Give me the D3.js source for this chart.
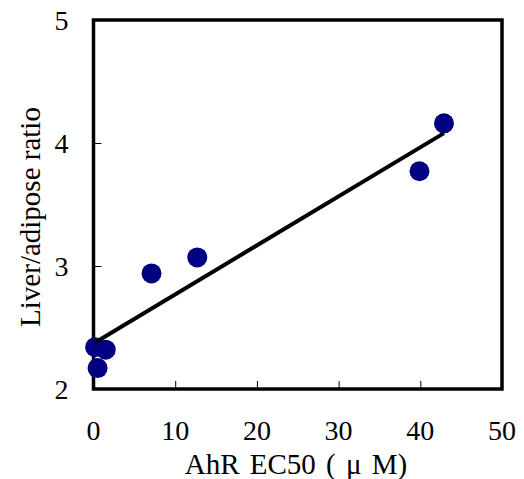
<!DOCTYPE html>
<html>
<head>
<meta charset="utf-8">
<script src="https://cdn.jsdelivr.net/npm/d3@7"></script>
<style>
  body { margin: 0; background: #fff; }
  svg { display: block; }
</style>
</head>
<body>
<svg width="524" height="479"></svg>
<script>
// AhR EC50 (uM) vs liver/adipose ratio
const ec50 = [0.2, 1.5, 0.5, 7.1, 12.7, 39.9, 42.9];
const ratio = [2.34, 2.32, 2.17, 2.94, 3.07, 3.77, 4.16];
const xTicks = [0, 10, 20, 30, 40, 50];
const yTicks = [2, 3, 4, 5];

let svg = d3.select("svg"),
    margin = {top: 20, right: 22, bottom: 90, left: 93.5},
    width = svg.attr("width") - margin.left - margin.right,
    height = svg.attr("height") - margin.top - margin.bottom,
    g = svg.append("g").attr("transform", "translate(" + margin.left + "," + margin.top + ")");

let x = d3.scaleLinear().domain([0, 50]).range([0, width]),
    y = d3.scaleLinear().domain([2, 5]).range([height, 0]);

let font = "'Liberation Serif', 'Times New Roman', serif";

// least squares fit
let data = ec50.map(function(d, i) { return {x: d, y: ratio[i]}; });
let mx = d3.mean(data, d => d.x), my = d3.mean(data, d => d.y);
let sxy = d3.sum(data, d => (d.x - mx) * (d.y - my));
let sxx = d3.sum(data, d => (d.x - mx) * (d.x - mx));
let slope = sxy / sxx, icpt = my - slope * mx;
let xr = d3.extent(ec50);

// inner ticks
g.append("g")
    .attr("transform", "translate(0," + height + ")")
    .call(d3.axisBottom(x).tickValues(xTicks.slice(1, -1)).tickSizeInner(-8).tickSizeOuter(0).tickFormat(""))
    .call(a => a.select(".domain").remove())
    .selectAll("line").attr("stroke", "#000").attr("stroke-width", 1);

g.append("g")
    .call(d3.axisLeft(y).tickValues(yTicks.slice(1, -1)).tickSizeInner(-8).tickSizeOuter(0).tickFormat(""))
    .call(a => a.select(".domain").remove())
    .selectAll("line").attr("stroke", "#000").attr("stroke-width", 1);

// frame
g.append("rect")
    .attr("x", 0).attr("y", 0)
    .attr("width", width).attr("height", height)
    .attr("fill", "none").attr("stroke", "#000").attr("stroke-width", 3.5);

// tick labels
g.selectAll(".xlab")
    .data(xTicks)
    .enter().append("text")
    .attr("x", d => x(d))
    .attr("y", height + 51)
    .attr("text-anchor", "middle")
    .style("font-family", font).style("font-size", "28px")
    .text(d => d);

g.selectAll(".ylab")
    .data(yTicks)
    .enter().append("text")
    .attr("x", -25)
    .attr("y", d => y(d))
    .attr("dy", "0.35em")
    .attr("text-anchor", "end")
    .style("font-family", font).style("font-size", "28px")
    .text(d => d);

// titles
svg.append("text")
    .attr("x", 296)
    .attr("y", 474)
    .attr("text-anchor", "middle")
    .style("font-family", font).style("font-size", "29px")
    .style("word-spacing", "3px")
    .text("AhR EC50 ( \u03bc M)");

svg.append("text")
    .attr("transform", "translate(40,217) rotate(-90)")
    .attr("text-anchor", "middle")
    .style("font-family", font).style("font-size", "29px")
    .text("Liver/adipose ratio");

// points
g.selectAll(".pt")
    .data(data)
    .enter().append("circle")
    .attr("class", "pt")
    .attr("r", 10)
    .attr("cx", d => x(d.x))
    .attr("cy", d => y(d.y))
    .attr("fill", "#000080");

// regression line
g.append("line")
    .attr("x1", x(xr[0])).attr("y1", y(icpt + slope * xr[0]))
    .attr("x2", x(xr[1])).attr("y2", y(icpt + slope * xr[1]))
    .attr("stroke", "#000").attr("stroke-width", 4);
</script>
</body>
</html>
